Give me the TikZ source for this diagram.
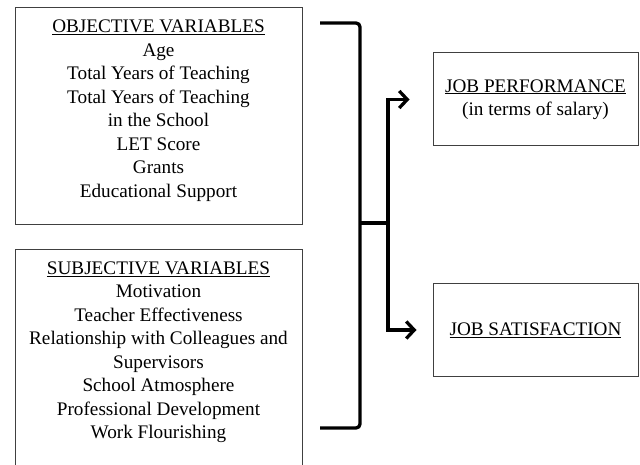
\documentclass[tikz,border=0pt]{standalone}
\usepackage{fontspec}
\setmainfont{Liberation Serif}
\usetikzlibrary{positioning,arrows.meta}
\newcommand{\frameclr}{black!75}
\newcommand{\bracewd}{3.3pt}
\newcommand{\boxfont}{\fontsize{19.2}{23.5}\selectfont}

\begin{document}
\begin{tikzpicture}[x=1pt,y=-1pt,
	varbox/.style={draw=\frameclr, line width=1pt, minimum width=287pt, minimum height=217pt, inner sep=0pt},
	vartext/.style={align=center, inner sep=0pt, font=\boxfont},
	outbox/.style={draw=\frameclr, line width=1pt, minimum width=205pt, minimum height=93pt, align=center, inner sep=0pt, font=\boxfont},
	brace/.style={line width=\bracewd, rounded corners=4pt},
	arr/.style={line width=\bracewd, -{Straight Barb[length=8pt,width=17pt]}}]
	\useasboundingbox (0,0) rectangle (640,465);

	% the two groups of variables
	\node[varbox] (objbox) at (158.5,116.5) {};
	\node[vartext, below=12.3pt of objbox.north] (objtext) {\underline{OBJECTIVE VARIABLES}\\
		Age\\
		Total Years of Teaching\\
		Total Years of Teaching\\
		in the School\\
		LET Score\\
		Grants\\
		Educational Support};

	\node[varbox] (subjbox) at (158.5,358.5) {};
	\node[vartext, below=11.8pt of subjbox.north] (subjtext) {\underline{SUBJECTIVE VARIABLES}\\
		Motivation\\
		Teacher Effectiveness\\
		Relationship with Colleagues and\\
		Supervisors\\
		School Atmosphere\\
		Professional Development\\
		Work Flourishing};

	% outcomes
	\node[outbox] (jobperf) at (535.5,99.5) {\underline{JOB PERFORMANCE}\\(in terms of salary)};
	\node[outbox] (jobsat) at (535.5,330) {\underline{JOB SATISFACTION}};

	% bracket and split
	\draw[brace] (320,23) -- (360,23) -- (360,428) -- (320,428);
	\coordinate (stem) at (360,223);
	\coordinate (split) at (388,223);
	\draw[line width=\bracewd] (stem) -- (split);
	\draw[arr] (split) |- ([xshift=-23pt]jobperf.west);
	\draw[arr] (split) |- ([xshift=-16pt]jobsat.west);
	%\draw[arr] (split) -- ([xshift=-16pt]jobsat.west);
\end{tikzpicture}
\end{document}
